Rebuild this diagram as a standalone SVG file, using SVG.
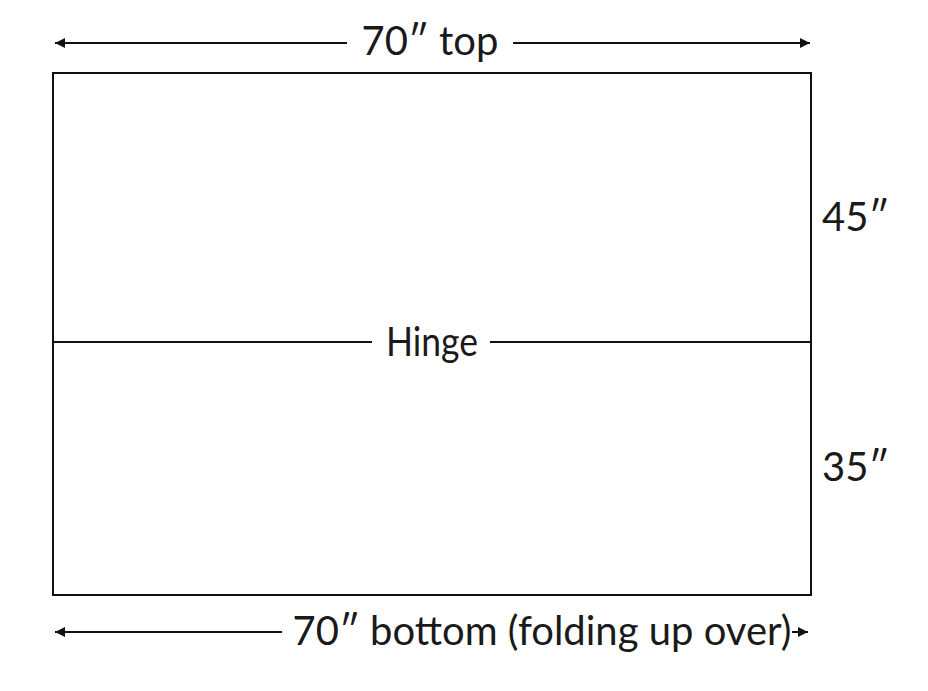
<svg xmlns="http://www.w3.org/2000/svg" width="928" height="691" viewBox="0 0 928 691">
<style>
.t{font-family:Lato,"Open Sans","Liberation Sans",sans-serif;font-size:40px;font-weight:400;fill:#1a1a1a}
.l{stroke:#111;stroke-width:2;fill:none}
</style>
<defs>
<marker id="ah" viewBox="0 0 10 10" refX="10" refY="5" markerWidth="10" markerHeight="10" markerUnits="userSpaceOnUse" orient="auto-start-reverse">
<path d="M0,0 L10,5 L0,10 z" fill="#111"/>
</marker>
</defs>
<rect width="928" height="691" fill="#fff"/>
<g id="panel">
<rect x="53" y="73" width="758" height="522" class="l"/>
</g>
<g id="connectors">
<line x1="55" y1="43" x2="347" y2="43" class="l" marker-start="url(#ah)"/>
<line x1="513" y1="43" x2="810" y2="43" class="l" marker-end="url(#ah)"/>
<line x1="53" y1="342" x2="372" y2="342" class="l" stroke-width="1.5"/>
<line x1="490" y1="342" x2="811" y2="342" class="l" stroke-width="1.5"/>
<line x1="55" y1="632" x2="282" y2="632" class="l" marker-start="url(#ah)"/>
<line x1="792" y1="632" x2="808" y2="632" class="l" marker-end="url(#ah)"/>
</g>
<g id="top-label"><text class="t" x="430" y="55" text-anchor="middle">70″ top</text></g>
<g id="hinge-label"><text class="t" x="432" y="356" text-anchor="middle" textLength="92" lengthAdjust="spacingAndGlyphs">Hinge</text></g>
<g id="h45"><text class="t" x="822" y="231">45″</text></g>
<g id="h35"><text class="t" x="822" y="481">35″</text></g>
<g id="bottom-label"><text class="t" x="542" y="645" text-anchor="middle">70″ bottom (folding up over)</text></g>
</svg>
